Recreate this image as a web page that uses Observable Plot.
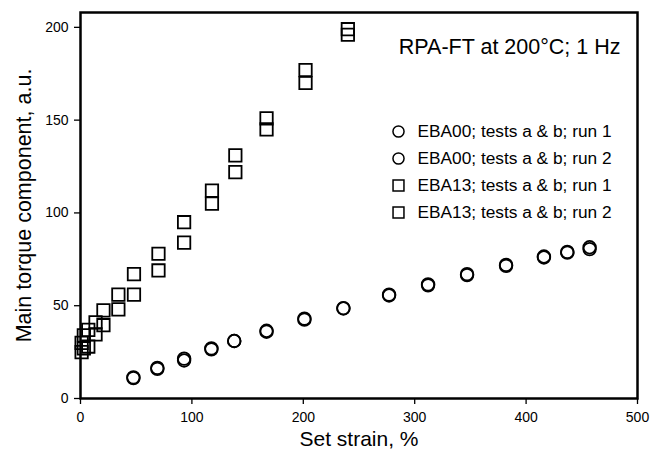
<!DOCTYPE html>
<html><head><meta charset="utf-8">
<script src="https://cdn.jsdelivr.net/npm/d3@7"></script>
<script src="https://cdn.jsdelivr.net/npm/@observablehq/plot@0.6"></script>
<style>
html,body{margin:0;padding:0;background:#fff}
svg{font-family:"Liberation Sans",Arial,sans-serif}
</style>
</head><body><div id="chart"></div>
<script>
// EBA00 (circles)
const eba00Strain = [47.5, 69, 93, 117.5, 138, 167, 201, 236, 277, 312, 347, 382, 416, 437, 457];
const eba00Run1   = [11.4, 16, 20.5, 27, 31, 36, 43, 48.7, 56, 61.5, 67, 72, 76, 78.6, 80.5];
const eba00Run2   = [11.0, 16.5, 21.5, 26.5, 31, 36.5, 42.5, 48.5, 55.5, 61, 66.5, 71.5, 76.5, 79, 81.5];
// EBA13 (squares)
const eba13Strain = [1, 3, 7, 13.5, 20.6, 34, 48, 70, 93, 118, 139, 167, 202, 240];
const eba13Run1   = [30, 34, 37, 41, 47.5, 56, 67, 78, 95, 112, 131, 151, 177, 199];
const eba13Run2   = [25, 27, 28, 34.5, 39.5, 48, 56, 69, 84, 105, 122, 145, 170, 196];

const xTicks = [0, 100, 200, 300, 400, 500];
const yTicks = [0, 50, 100, 150, 200];
const title = "RPA-FT at 200°C; 1 Hz";
const xLabel = "Set strain, %";
const yLabel = "Main torque component, a.u.";
const legendLabels = ["EBA00; tests a & b; run 1", "EBA00; tests a & b; run 2", "EBA13; tests a & b; run 1", "EBA13; tests a & b; run 2"];
const legendSymbols = ["circle", "circle", "square", "square"];

const toRows = (xs, ys) => xs.map((x, i) => ({x, y: ys[i]}));
const series = [
  {rows: toRows(eba00Strain, eba00Run1), symbol: "circle"},
  {rows: toRows(eba00Strain, eba00Run2), symbol: "circle"},
  {rows: toRows(eba13Strain, eba13Run1), symbol: "square"},
  {rows: toRows(eba13Strain, eba13Run2), symbol: "square"}
];

const symR = s => s === "square" ? 7.0 : 6.3;
const legendMarks = legendLabels.flatMap((label, i) => [
  Plot.dot([label], {frameAnchor: "top-left", dx: 318, dy: 119 + i * 27, symbol: legendSymbols[i], r: symR(legendSymbols[i]) * 0.88, stroke: "#000", strokeWidth: 1.5, fill: "none"}),
  Plot.text([label], {frameAnchor: "top-left", dx: 337, dy: 119 + i * 27, textAnchor: "start", lineAnchor: "middle", fontSize: 17.3})
]);

const chart = Plot.plot({
  width: 650,
  height: 457,
  marginLeft: 80,
  marginRight: 13,
  marginTop: 12,
  marginBottom: 59,
  x: {domain: [0, 500]},
  y: {domain: [0, 208]},
  style: {fontSize: "14px", fontFamily: "'Liberation Sans', Arial, sans-serif", color: "#000", background: "#fff"},
  marks: [
    Plot.frame({stroke: "#000", strokeWidth: 2.5}),
    Plot.axisX({ticks: xTicks, tickSize: 6, tickPadding: 8, label: null, fontSize: 14, strokeWidth: 1.3}),
    Plot.axisY({ticks: yTicks, tickSize: 6, tickPadding: 6, label: null, fontSize: 14, strokeWidth: 1.3}),
    Plot.text([xLabel], {frameAnchor: "bottom", dy: 47, fontSize: 21}),
    Plot.text([yLabel], {frameAnchor: "left", dx: -56, rotate: -90, textAnchor: "middle", fontSize: 21.5}),
    ...series.map(s => Plot.dot(s.rows, {x: "x", y: "y", symbol: s.symbol, r: symR(s.symbol), stroke: "#000", strokeWidth: 1.8, fill: "none"})),
    Plot.text([title], {frameAnchor: "top-right", dx: -17, dy: 26, textAnchor: "end", fontSize: 21.5}),
    ...legendMarks
  ]
});
document.getElementById("chart").appendChild(chart);
</script>
</body></html>
